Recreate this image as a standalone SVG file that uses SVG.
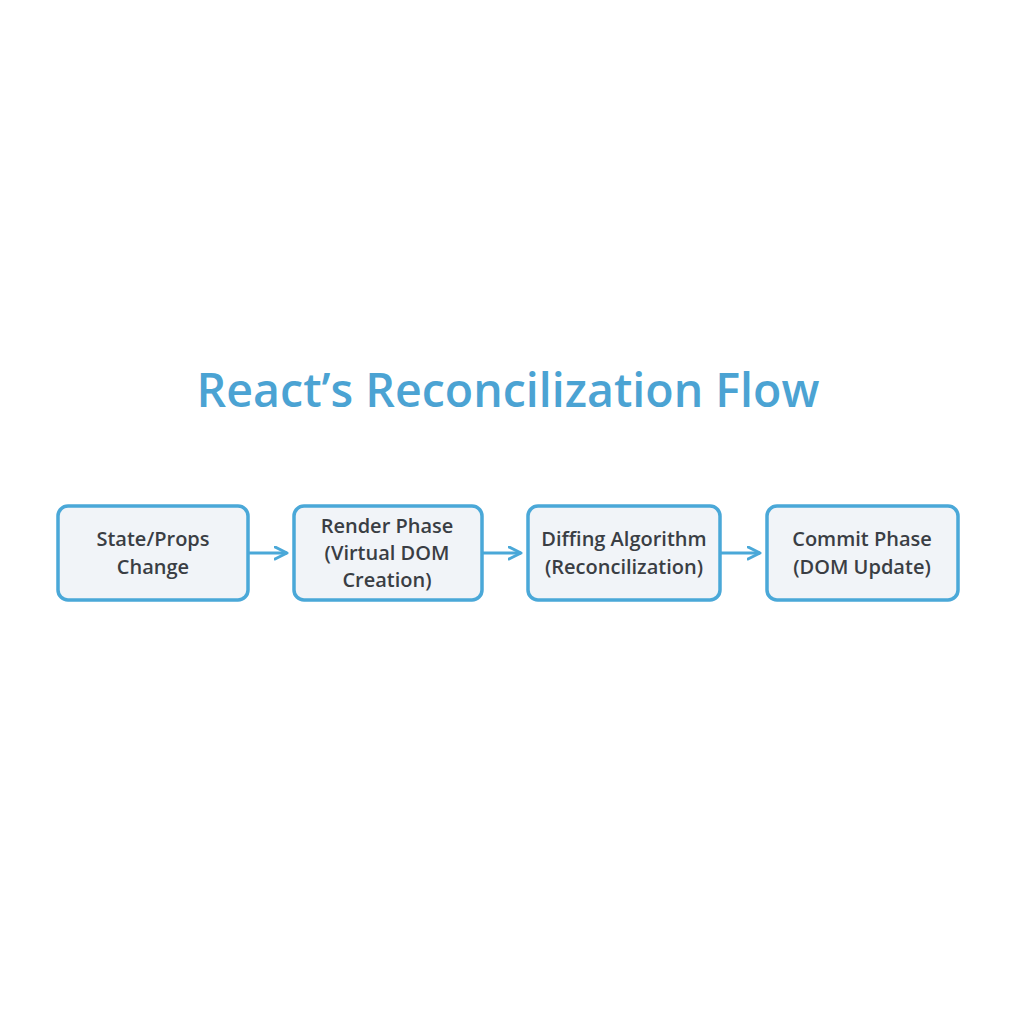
<svg xmlns="http://www.w3.org/2000/svg" width="1024" height="1024" viewBox="0 0 1024 1024">
<defs>
<style>
.box{fill:#f1f4f8;stroke:#4aa8d8;stroke-width:3.5}
.lbl{font-family:"Open Sans","Noto Sans",sans-serif;font-weight:600;font-size:20px;fill:#3a3e44;text-anchor:middle}
.title{font-family:"Open Sans","Noto Sans",sans-serif;font-weight:600;font-size:46.5px;fill:#4ba3d3;text-anchor:middle}
.conn{stroke:#4aa8d8;stroke-width:3;fill:none}
</style>
<marker id="ah" viewBox="0 0 10 10" refX="9" refY="5" markerWidth="5" markerHeight="5" orient="auto" markerUnits="strokeWidth">
<path d="M1,1 L9,5 L1,9" fill="none" stroke="#4aa8d8" stroke-width="2" stroke-linecap="round" stroke-linejoin="round"/>
</marker>
</defs>
<rect width="1024" height="1024" fill="#ffffff"/>
<text class="title" x="508" y="407">React’s Reconcilization Flow</text>
<g id="connectors">
<line class="conn" x1="249" y1="553" x2="287" y2="553" marker-end="url(#ah)"/>
<line class="conn" x1="483" y1="553" x2="521" y2="553" marker-end="url(#ah)"/>
<line class="conn" x1="721" y1="553" x2="760" y2="553" marker-end="url(#ah)"/>
</g>
<g id="n1">
<rect class="box" x="58" y="506" width="190" height="94" rx="10"/>
<text class="lbl" x="153" y="546">State/Props</text>
<text class="lbl" x="153" y="574">Change</text>
</g>
<g id="n2">
<rect class="box" x="294" y="506" width="188" height="94" rx="10"/>
<text class="lbl" x="387" y="533">Render Phase</text>
<text class="lbl" x="387" y="560">(Virtual DOM</text>
<text class="lbl" x="387" y="587">Creation)</text>
</g>
<g id="n3">
<rect class="box" x="528" y="506" width="192" height="94" rx="10"/>
<text class="lbl" x="624" y="546">Diffing Algorithm</text>
<text class="lbl" x="624" y="574">(Reconcilization)</text>
</g>
<g id="n4">
<rect class="box" x="767" y="506" width="191" height="94" rx="10"/>
<text class="lbl" x="862" y="546">Commit Phase</text>
<text class="lbl" x="862" y="574">(DOM Update)</text>
</g>
</svg>
